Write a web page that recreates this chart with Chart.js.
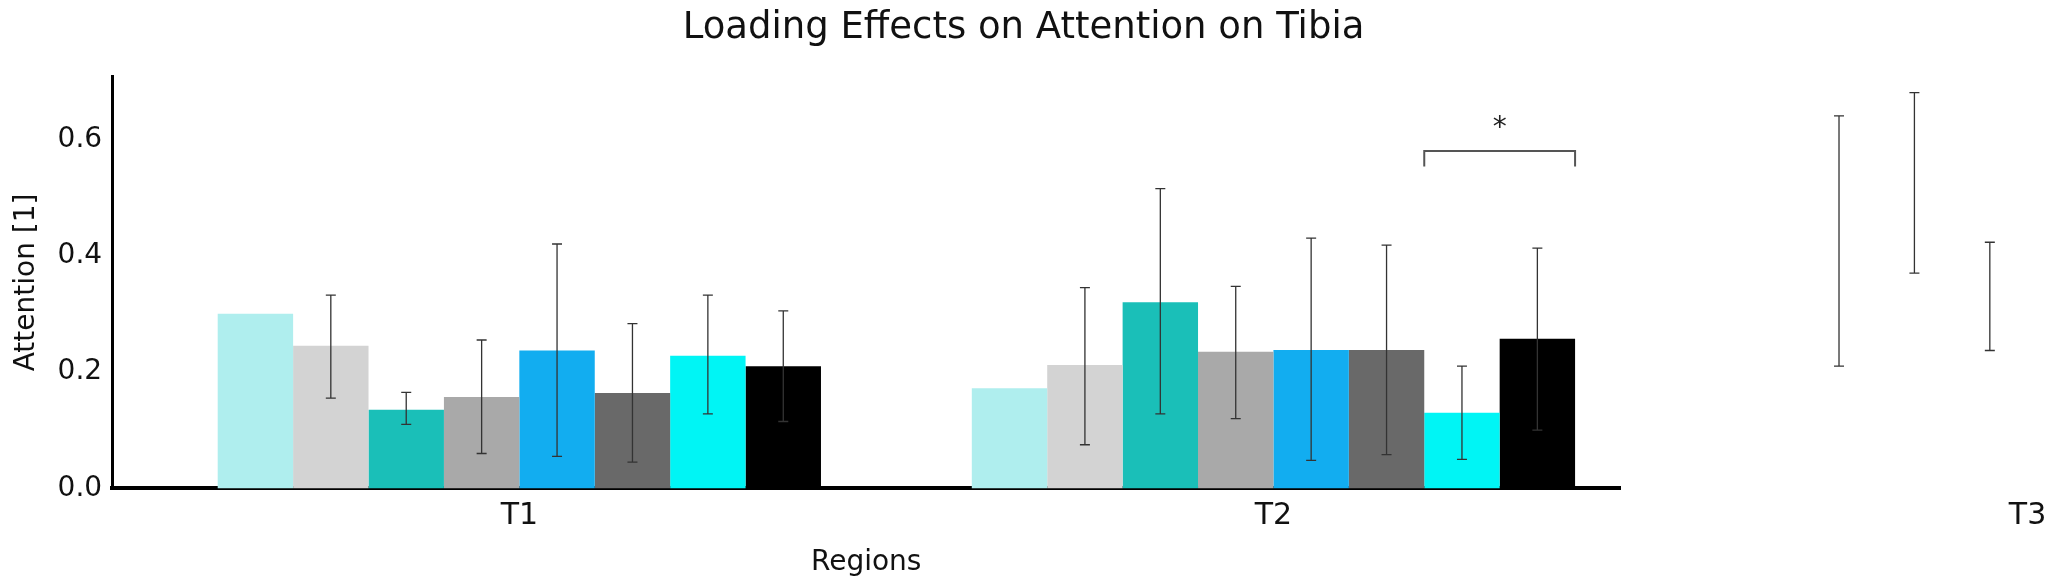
<!DOCTYPE html>
<html>
<head>
<meta charset="utf-8">
<script src="https://cdn.jsdelivr.net/npm/chart.js@4"></script>
<style>
  html, body { margin: 0; padding: 0; background: #fff; }
  #wrap { width: 2053px; height: 584px; }
</style>
</head>
<body>
<div id="wrap"><canvas id="chart"></canvas></div>
<script>
// ─── Data ─────────────────────────────────────────────────────────────────────

const regions = ['T1', 'T2', 'T3'];
const conditions = ['C1', 'C2', 'C3', 'C4', 'C5', 'C6', 'C7', 'C8'];

// mean per condition, one value per region
const means = [
    [0.300, 0.172, 0.332],
    [0.245, 0.212, 0.427],
    [0.135, 0.320, 0.525],
    [0.157, 0.235, 0.330],
    [0.237, 0.238, 0.342],
    [0.164, 0.238, 0.280],
    [0.228, 0.130, 0.252],
    [0.210, 0.257, 0.255],
];
// error bar [low, high], null = not shown
const errLow = [
    [null, null, null],
    [0.155, 0.075, 0.210],
    [0.110, 0.128, 0.370],
    [0.060, 0.120, 0.237],
    [0.055, 0.048, 0.115],
    [0.045, 0.058, 0.112],
    [0.128, 0.050, 0.242],
    [0.115, 0.100, 0.095],
];
const errHigh = [
    [null, null, null],
    [0.332, 0.345, 0.640],
    [0.165, 0.515, 0.680],
    [0.255, 0.347, 0.423],
    [0.420, 0.430, 0.560],
    [0.283, 0.418, 0.450],
    [0.332, 0.210, 0.262],
    [0.305, 0.413, 0.415],
];
const barColors = ['#AFEEEE', '#D3D3D3', '#1ABFB8', '#A9A9A9', '#12ADF0', '#696969', '#00F5F5', '#000000'];

// significance bracket: region index, from/to condition, bracket height, tick bottom
const sigRegion = 1;
const sigFrom = 6;
const sigTo = 7;
const sigLevel = [0.580, 0.553];
const sigLabel = '*';

// ─── Plugins ──────────────────────────────────────────────────────────────────

const errorBars = {
    id: 'errorBars',
    afterDatasetsDraw(chart) {
        const { ctx, scales: { y } } = chart;
        ctx.save();
        ctx.strokeStyle = '#333';
        ctx.lineWidth = 1.3;
        chart.data.datasets.forEach((ds, i) => {
            chart.getDatasetMeta(i).data.forEach((bar, j) => {
                const lo = errLow[i][j], hi = errHigh[i][j];
                if (lo == null) return;
                const x = bar.x, y1 = y.getPixelForValue(lo), y2 = y.getPixelForValue(hi);
                ctx.beginPath();
                ctx.moveTo(x, y1); ctx.lineTo(x, y2);
                ctx.moveTo(x - 5, y1); ctx.lineTo(x + 5, y1);
                ctx.moveTo(x - 5, y2); ctx.lineTo(x + 5, y2);
                ctx.stroke();
            });
        });
        ctx.restore();
    },
};

const sigBracket = {
    id: 'sigBracket',
    afterDatasetsDraw(chart) {
        const { ctx, scales: { y } } = chart;
        const a = chart.getDatasetMeta(sigFrom).data[sigRegion];
        const b = chart.getDatasetMeta(sigTo).data[sigRegion];
        const x1 = a.x - a.width / 2, x2 = b.x + b.width / 2;
        const yTop = y.getPixelForValue(sigLevel[0]), yBot = y.getPixelForValue(sigLevel[1]);
        ctx.save();
        ctx.strokeStyle = '#555';
        ctx.lineWidth = 2;
        ctx.beginPath();
        ctx.moveTo(x1, yBot); ctx.lineTo(x1, yTop); ctx.lineTo(x2, yTop); ctx.lineTo(x2, yBot);
        ctx.stroke();
        ctx.fillStyle = '#222';
        ctx.font = '28px "DejaVu Sans"';
        ctx.textAlign = 'center';
        ctx.textBaseline = 'bottom';
        ctx.fillText(sigLabel, (x1 + x2) / 2, yTop - 8);
        ctx.restore();
    },
};

// ─── Chart ────────────────────────────────────────────────────────────────────

const font = { family: '"DejaVu Sans"', size: 28 };

new Chart(document.getElementById('chart'), {
    type: 'bar',
    data: {
        labels: regions,
        datasets: conditions.map((c, i) => ({
            label: c,
            data: means[i],
            backgroundColor: barColors[i],
            barPercentage: 1,
            categoryPercentage: 0.8,
        })),
    },
    options: {
        responsive: true,
        maintainAspectRatio: false,
        animation: false,
        layout: { padding: { left: 6, right: 12, top: 0, bottom: 2 } },
        plugins: {
            legend: { display: false },
            tooltip: { enabled: false },
            title: {
                display: true,
                text: 'Loading Effects on Attention on Tibia',
                color: '#111',
                font: { family: '"DejaVu Sans"', size: 37, weight: 'normal' },
                padding: { top: 6, bottom: 26 },
            },
        },
        scales: {
            y: {
                min: 0,
                max: 0.708,
                grid: { display: false, drawTicks: false },
                border: { color: '#000', width: 3 },
                afterBuildTicks: s => { s.ticks = [0, 0.2, 0.4, 0.6].map(v => ({ value: v })); },
                ticks: { font, color: '#111', padding: 10, callback: v => v.toFixed(1) },
                title: { display: true, text: 'Attention [1]', font, color: '#111', padding: 4 },
            },
            x: {
                offset: false,
                afterDataLimits: s => { s.min = -0.54; s.max = 2.54; },
                afterBuildTicks: s => { s.ticks = regions.map((r, i) => ({ value: i })); },
                grid: { display: false, drawTicks: false },
                border: { color: '#000', width: 4 },
                ticks: { font: { ...font, size: 30 }, color: '#111', padding: 10, callback: (v, i) => regions[i] },
                title: { display: true, text: 'Regions', font, color: '#111', padding: 2 },
            },
        },
    },
    plugins: [errorBars, sigBracket],
});
</script>
</body>
</html>
